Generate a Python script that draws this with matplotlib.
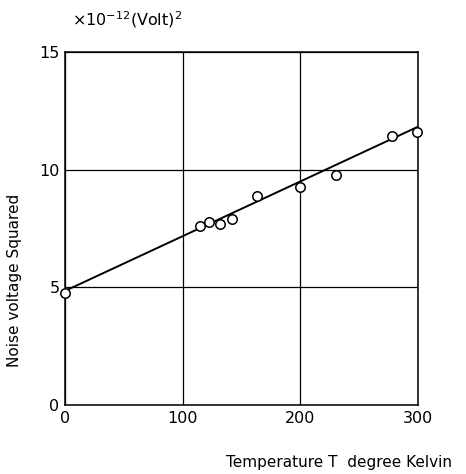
import matplotlib
matplotlib.use("Agg")
import matplotlib.pyplot as plt

# Data
temperature = [0, 115, 122, 132, 142, 163, 200, 230, 278, 299]
noise_sq = [4.77, 7.62, 7.76, 7.68, 7.89, 8.88, 9.26, 9.76, 11.44, 11.60]
fit_T = [0, 300]
fit_V = [4.85, 11.83]
xticks = [0, 100, 200, 300]
yticks = [0, 5, 10, 15]

plt.rcParams['font.family'] = ['DejaVu Sans']
fig = plt.figure(figsize=(4.66, 4.74), dpi=100)
ax = fig.add_axes([0.1395, 0.1456, 0.7575, 0.7444])

ax.plot(fit_T, fit_V, color='black', lw=1.4, zorder=3)
ax.plot(temperature, noise_sq, linestyle='none', marker='o', markersize=6.8,
        markerfacecolor='white', markeredgecolor='black', markeredgewidth=1.1,
        zorder=4, clip_on=False)

ax.set_xlim(0, 300)
ax.set_ylim(0, 15)
ax.set_xticks(xticks)
ax.set_yticks(yticks)
ax.grid(True, color='black', lw=0.9)
ax.tick_params(length=0, labelsize=11.5, pad=4)
for s in ax.spines.values():
    s.set_linewidth(1.1)

ax.set_ylabel('Noise voltage Squared', fontsize=11)
ax.yaxis.set_label_coords(-0.122, 0.354)

fig.text(452/466, 1 - 462/474, 'Temperature T  degree Kelvin', fontsize=11,
         ha='right', va='center')
fig.text(72/466, 1 - 20/474, r'$\times$10$^{-12}$(Volt)$^{2}$', fontsize=11.5,
         ha='left', va='center')

fig.savefig('out.png', dpi=100)
